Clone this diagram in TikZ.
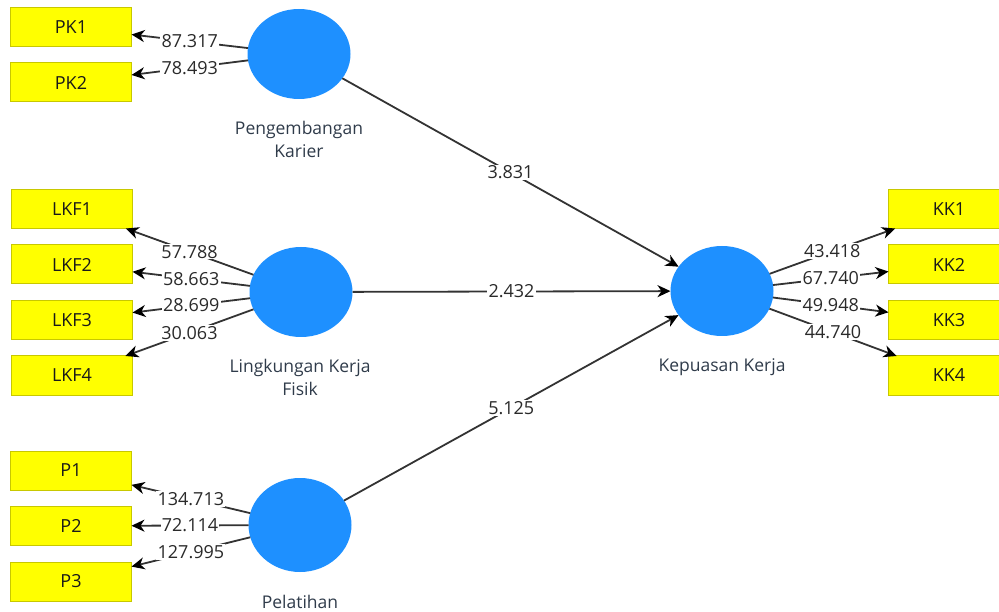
\documentclass[tikz,border=0pt]{standalone}
\usepackage{fontspec}
\setmainfont{Open Sans}
\usetikzlibrary{shapes.geometric,arrows.meta}
\definecolor{boxyellow}{HTML}{FFFF00}
\definecolor{boxedge}{HTML}{C8C800}
\definecolor{latblue}{HTML}{1E90FF}
\definecolor{txt}{HTML}{2A2A2A}
\definecolor{lbl}{HTML}{2F3B4A}
\definecolor{edgecol}{HTML}{333333}
\begin{document}
\begin{tikzpicture}[x=1pt,y=-1pt,
 ind/.style={rectangle,draw=boxedge,line width=1pt,fill=boxyellow,minimum width=121pt,minimum height=39pt,inner sep=0pt,outer sep=0pt,font=\fontsize{18}{21}\selectfont,text=black!90},
 lat/.style={ellipse,fill=latblue,minimum width=103pt,minimum height=90pt,inner sep=0pt,outer sep=0pt},
 lname/.style={font=\fontsize{17.5}{23}\selectfont,text=lbl,align=center},
 num/.style={fill=white,inner sep=1.2pt,font=\fontsize{18}{21}\selectfont,text=txt},
 conn/.style={draw=edgecol,line width=1.8pt,-{Stealth[length=13pt,width=12pt,inset=4pt,color=black]}}
]
\useasboundingbox (0,0) rectangle (999,612);
\clip (0,0) rectangle (999,612);
% latent variables
\node[lat] (pk) at (299,54) {};
\node[lat] (lkf) at (301,292) {};
\node[lat,minimum height=94pt] (p) at (300,525) {};
\node[lat] (kk) at (722,291) {};
% latent names
\node[lname] (pkname) at (299,139.5) {Pengembangan\\Karier};
\node[lname] (lkfname) at (300,377.5) {Lingkungan Kerja\\Fisik};
\node[lname] (pname) at (300,602) {Pelatihan};
\node[lname] (kkname) at (722,367) {Kepuasan Kerja};
% indicators
\node[ind] (pk1) at (71,27.5) {PK1};
\node[ind] (pk2) at (71,82.5) {PK2};
\node[ind] (lkf1) at (72,209) {LKF1};
\node[ind] (lkf2) at (72,264.5) {LKF2};
\node[ind] (lkf3) at (72,320) {LKF3};
\node[ind] (lkf4) at (72,375.5) {LKF4};
\node[ind] (p1) at (71,470.5) {P1};
\node[ind] (p2) at (71,526) {P2};
\node[ind] (p3) at (71,581.5) {P3};
\node[ind] (kk1) at (949,209) {KK1};
\node[ind] (kk2) at (949,264.5) {KK2};
\node[ind] (kk3) at (949,320) {KK3};
\node[ind] (kk4) at (949,375.5) {KK4};
% outer loadings
\draw[conn] (pk) -- node[num] {87.317} (pk1);
\draw[conn] (pk) -- node[num] {78.493} (pk2);
\draw[conn] (lkf) -- node[num] {57.788} (lkf1);
\draw[conn] (lkf) -- node[num] {58.663} (lkf2);
\draw[conn] (lkf) -- node[num] {28.699} (lkf3);
\draw[conn] (lkf) -- node[num] {30.063} (lkf4);
\draw[conn] (p) -- node[num] {134.713} (p1);
\draw[conn] (p) -- node[num] {72.114} (p2);
\draw[conn] (p) -- node[num] {127.995} (p3);
\draw[conn] (kk) -- node[num] {43.418} (kk1);
\draw[conn] (kk) -- node[num] {67.740} (kk2);
\draw[conn] (kk) -- node[num] {49.948} (kk3);
\draw[conn] (kk) -- node[num] {44.740} (kk4);
% structural paths
\draw[conn] (pk) -- node[num] {3.831} (kk);
\draw[conn] (lkf) -- node[num] {2.432} (kk);
\draw[conn] (p) -- node[num] {5.125} (kk);
\end{tikzpicture}
\end{document}
